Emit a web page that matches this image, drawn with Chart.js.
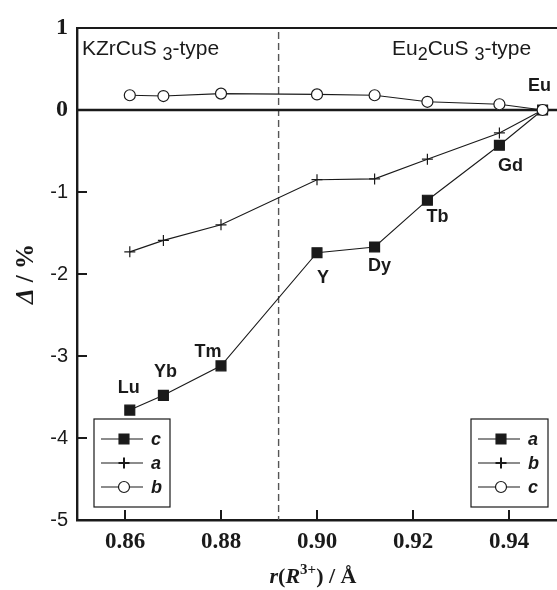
<!DOCTYPE html>
<html>
<head>
<meta charset="utf-8">
<script src="https://cdn.jsdelivr.net/npm/chart.js@4.4.1/dist/chart.umd.min.js"></script>
<style>
  html, body { margin: 0; padding: 0; background: #fff; }
  #wrap { width: 557px; height: 590px; position: relative; }
</style>
</head>
<body>
<div id="wrap"><canvas id="chart"></canvas></div>
<script>
// ionic radius r(R3+) / A
const radius = [0.861, 0.868, 0.880, 0.900, 0.912, 0.923, 0.938, 0.947];
const elements = ['Lu', 'Yb', 'Tm', 'Y', 'Dy', 'Tb', 'Gd', 'Eu'];

// Delta / % for each marker type
const squareVals = [-3.66, -3.48, -3.12, -1.74, -1.67, -1.10, -0.43, 0];
const plusVals = [-1.73, -1.59, -1.40, -0.85, -0.84, -0.60, -0.28, 0];
const circleVals = [0.18, 0.17, 0.20, 0.19, 0.18, 0.10, 0.07, 0];

const xTicks = [0.86, 0.88, 0.90, 0.92, 0.94];
const yTicks = [1, 0, -1, -2, -3, -4, -5];
const boundary = 0.892;

// legend axis letters (KZrCuS3-type left, Eu2CuS3-type right)
const legendLeft = ['c', 'a', 'b'];
const legendRight = ['a', 'b', 'c'];

const INK = '#1a1a1a';
const SANS = "'Liberation Sans', Arial, sans-serif";
const SERIF = "'Liberation Serif', 'Times New Roman', serif";

function pts(vals) {
    return radius.map((r, i) => ({ x: r, y: vals[i] }));
}

const markers = [
    { style: 'rect', r: 7, fill: INK, border: INK },
    { style: 'cross', r: 5.5, fill: INK, border: INK },
    { style: 'circle', r: 5.5, fill: '#fff', border: INK }
];

function series(vals, m, order) {
    return {
        data: pts(vals),
        order: order,
        showLine: true,
        borderColor: INK,
        borderWidth: 1.1,
        pointStyle: m.style,
        pointRadius: m.r,
        pointBackgroundColor: m.fill,
        pointBorderColor: m.border,
        pointBorderWidth: 1.2,
        pointHoverRadius: m.r
    };
}

// label offsets around the square markers (dx centre, dy baseline)
const labelOffsets = {
    Lu: [-1, -17], Yb: [2, -18], Tm: [-13, -9], Y: [6, 30],
    Dy: [5, 24], Tb: [10, 22], Gd: [11, 26], Eu: [-3, -19]
};

function drawRuns(ctx, runs, x, baseline, align) {
    let total = 0;
    runs.forEach(r => { ctx.font = r.font; total += ctx.measureText(r.text).width + (r.gap || 0); });
    let cx = align === 'center' ? x - total / 2 : x;
    ctx.textAlign = 'left';
    ctx.textBaseline = 'alphabetic';
    runs.forEach(r => {
        ctx.font = r.font;
        ctx.fillText(r.text, cx, baseline + (r.dy || 0));
        cx += ctx.measureText(r.text).width + (r.gap || 0);
    });
}

const decorPlugin = {
    id: 'decor',
    beforeDatasetsDraw(chart) {
        const { ctx, chartArea: a, scales: { x, y } } = chart;
        ctx.save();
        // dashed phase boundary
        const bx = x.getPixelForValue(boundary);
        ctx.strokeStyle = '#555';
        ctx.lineWidth = 1.4;
        ctx.setLineDash([7, 4]);
        ctx.beginPath();
        ctx.moveTo(bx, a.top + 4);
        ctx.lineTo(bx, a.bottom);
        ctx.stroke();
        ctx.setLineDash([]);
        // zero line
        const zy = y.getPixelForValue(0);
        ctx.strokeStyle = INK;
        ctx.lineWidth = 2.4;
        ctx.beginPath();
        ctx.moveTo(a.left, zy);
        ctx.lineTo(a.right, zy);
        ctx.stroke();
        // top frame
        ctx.lineWidth = 2;
        ctx.beginPath();
        ctx.moveTo(a.left, a.top);
        ctx.lineTo(a.right, a.top);
        ctx.stroke();
        // inward ticks
        ctx.lineWidth = 2;
        xTicks.forEach(v => {
            const px = x.getPixelForValue(v);
            ctx.beginPath();
            ctx.moveTo(px, a.bottom);
            ctx.lineTo(px, a.bottom - 10);
            ctx.stroke();
        });
        yTicks.forEach(v => {
            const py = y.getPixelForValue(v);
            ctx.beginPath();
            ctx.moveTo(a.left, py);
            ctx.lineTo(a.left + 10, py);
            ctx.stroke();
        });
        ctx.restore();
    },
    afterDatasetsDraw(chart) {
        const { ctx, chartArea: a } = chart;
        ctx.save();
        ctx.fillStyle = INK;

        // element labels
        const meta = chart.getDatasetMeta(0);
        ctx.font = 'bold 18px ' + SANS;
        ctx.textAlign = 'center';
        ctx.textBaseline = 'alphabetic';
        meta.data.forEach((pt, i) => {
            const off = labelOffsets[elements[i]] || [0, -14];
            ctx.fillText(elements[i], pt.x + off[0], pt.y + off[1]);
        });

        // structure type captions
        const reg = '21px ' + SANS;
        const sub = '18px ' + SANS;
        drawRuns(ctx, [
            { text: 'KZrCuS ', font: reg },
            { text: '3', font: sub, dy: 5 },
            { text: '-type', font: reg }
        ], a.left + 5, 55, 'left');
        drawRuns(ctx, [
            { text: 'Eu', font: reg },
            { text: '2', font: sub, dy: 5 },
            { text: 'CuS ', font: reg },
            { text: '3', font: sub, dy: 5 },
            { text: '-type', font: reg }
        ], 392, 55, 'left');

        // legend boxes
        const rows = [439, 463, 487];
        function legendBox(left, top, w, h, letters) {
            ctx.strokeStyle = INK;
            ctx.lineWidth = 1.2;
            ctx.fillStyle = '#fff';
            ctx.fillRect(left, top, w, h);
            ctx.strokeRect(left, top, w, h);
            letters.forEach((t, i) => {
                const ry = rows[i];
                const lx0 = left + 7, lx1 = left + 49, mx = left + 30;
                ctx.strokeStyle = INK;
                ctx.lineWidth = 1.1;
                ctx.beginPath();
                ctx.moveTo(lx0, ry);
                ctx.lineTo(lx1, ry);
                ctx.stroke();
                const m = markers[i];
                ctx.fillStyle = m.fill;
                ctx.strokeStyle = m.border;
                ctx.lineWidth = i === 1 ? 2 : 1.2;
                Chart.helpers.drawPoint(ctx, { pointStyle: m.style, radius: m.r, borderWidth: ctx.lineWidth }, mx, ry);
                ctx.fillStyle = INK;
                ctx.font = 'italic bold 18px ' + SANS;
                ctx.textAlign = 'left';
                ctx.textBaseline = 'middle';
                ctx.fillText(t, left + 57, ry + 1);
            });
        }
        legendBox(94, 419, 76, 88, legendLeft);
        legendBox(471, 419, 77, 88, legendRight);

        // axis titles
        ctx.fillStyle = INK;
        const bSerif = 'bold 22px ' + SERIF;
        const biSerif = 'italic bold 22px ' + SERIF;
        drawRuns(ctx, [
            { text: 'r', font: biSerif },
            { text: '(', font: bSerif },
            { text: 'R', font: biSerif },
            { text: '3+', font: 'bold 15px ' + SERIF, dy: -9 },
            { text: ') / Å', font: bSerif }
        ], (a.left + a.right) / 2 - 4, 583, 'center');

        ctx.save();
        ctx.translate(33, (a.top + a.bottom) / 2);
        ctx.rotate(-Math.PI / 2);
        drawRuns(ctx, [
            { text: 'Δ', font: 'italic bold 25px ' + SERIF },
            { text: ' / %', font: 'bold 25px ' + SERIF }
        ], 0, 0, 'center');
        ctx.restore();

        ctx.restore();
    }
};

new Chart(document.getElementById('chart'), {
    type: 'scatter',
    data: {
        datasets: [
            series(squareVals, markers[0], 1),
            series(plusVals, markers[1], 2),
            series(circleVals, markers[2], 0)
        ]
    },
    options: {
        responsive: true,
        maintainAspectRatio: false,
        animation: false,
        layout: { autoPadding: false, padding: { top: 28, right: 0, left: 0, bottom: 0 } },
        plugins: {
            legend: { display: false },
            tooltip: { enabled: false }
        },
        scales: {
            x: {
                type: 'linear',
                min: 0.85,
                max: 0.95,
                afterBuildTicks: s => { s.ticks = xTicks.map(v => ({ value: v })); },
                afterFit: s => { s.height = 70; s.paddingLeft = 0; s.paddingRight = 0; },
                grid: { display: true, drawOnChartArea: false, drawTicks: false },
                border: { display: true, color: INK, width: 2.4 },
                ticks: {
                    color: INK,
                    padding: 8,
                    font: { family: SERIF, size: 23, weight: 'bold' },
                    callback: v => v.toFixed(2)
                }
            },
            y: {
                type: 'linear',
                min: -5,
                max: 1,
                afterBuildTicks: s => { s.ticks = yTicks.map(v => ({ value: v })); },
                afterFit: s => { s.width = 77; s.paddingTop = 0; s.paddingBottom = 0; },
                grid: { display: true, drawOnChartArea: false, drawTicks: false },
                border: { display: true, color: INK, width: 2.4 },
                ticks: {
                    color: INK,
                    padding: 9,
                    font: c => (c.tick && c.tick.value >= 0)
                        ? { family: SERIF, size: 24, weight: 'bold' }
                        : { family: SANS, size: 20 },
                    callback: v => String(v)
                }
            }
        }
    },
    plugins: [decorPlugin]
});
</script>
</body>
</html>
